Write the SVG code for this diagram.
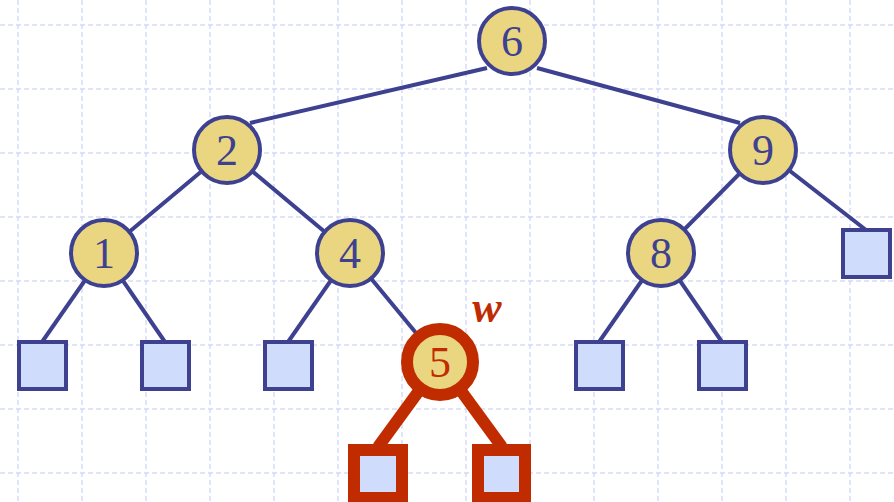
<svg xmlns="http://www.w3.org/2000/svg" width="894" height="502" viewBox="0 0 894 502">
<defs>
<style>
.grid{stroke:#d6dcf6;stroke-width:1.5;stroke-dasharray:5 3;fill:none}
.e{stroke:#3d4190;stroke-width:4;fill:none}
.er{stroke:#c02c00;stroke-width:12;fill:none}
.n{fill:#ead680;stroke:#3d4190;stroke-width:4}
.nr{fill:#ead680;stroke:#c02c00;stroke-width:12}
.l{fill:#cfdcfb;stroke:#3d4190;stroke-width:4}
.lr{fill:#cfdcfb;stroke:#c02c00;stroke-width:12}
.t{font-family:"Liberation Serif",serif;font-size:44px;fill:#3d4190;text-anchor:middle}
.tr{font-family:"Liberation Serif",serif;font-size:44px;fill:#c02c00;text-anchor:middle}
</style>
</defs>
<rect width="894" height="502" fill="#ffffff"/>
<g id="grid" class="grid">
<path d="M18 0V502M82 0V502M146 0V502M210 0V502M274 0V502M338 0V502M402 0V502M466 0V502M530 0V502M594 0V502M658 0V502M722 0V502M786 0V502M850 0V502"/>
<path d="M0 25H894M0 89H894M0 153H894M0 217H894M0 281H894M0 345H894M0 409H894M0 473H894"/>
</g>
<g id="connectors">
<line class="e" x1="487" y1="68" x2="250" y2="123"/>
<line class="e" x1="537" y1="68" x2="740" y2="123"/>
<line class="e" x1="227" y1="150" x2="104" y2="253"/>
<line class="e" x1="227" y1="150" x2="350" y2="253"/>
<line class="e" x1="763" y1="150" x2="661" y2="253"/>
<line class="e" x1="763" y1="150" x2="866" y2="230"/>
<line class="e" x1="104" y1="253" x2="42" y2="342"/>
<line class="e" x1="104" y1="253" x2="165" y2="342"/>
<line class="e" x1="350" y1="253" x2="288" y2="342"/>
<line class="e" x1="350" y1="253" x2="440" y2="362"/>
<line class="e" x1="661" y1="253" x2="599" y2="342"/>
<line class="e" x1="661" y1="253" x2="722" y2="342"/>
<line class="er" x1="440" y1="362" x2="378" y2="447"/>
<line class="er" x1="440" y1="362" x2="502" y2="447"/>
</g>
<g id="node6"><circle class="n" cx="512" cy="41" r="33"/><text class="t" x="512" y="56">6</text></g>
<g id="node2"><circle class="n" cx="227" cy="150" r="33"/><text class="t" x="227" y="165">2</text></g>
<g id="node9"><circle class="n" cx="763" cy="150" r="33"/><text class="t" x="763" y="165">9</text></g>
<g id="node1"><circle class="n" cx="104" cy="253" r="33"/><text class="t" x="104" y="268">1</text></g>
<g id="node4"><circle class="n" cx="350" cy="253" r="33"/><text class="t" x="350" y="268">4</text></g>
<g id="node8"><circle class="n" cx="661" cy="253" r="33"/><text class="t" x="661" y="268">8</text></g>
<g id="node5"><circle class="nr" cx="440" cy="362" r="33"/><text class="tr" x="440" y="377">5</text></g>
<g id="labelw"><text x="487" y="322" font-family="Liberation Serif,serif" font-size="44" font-style="italic" font-weight="bold" fill="#c02c00" text-anchor="middle">w</text></g>
<g id="leaf1"><rect class="l" x="19" y="342" width="47" height="47"/></g>
<g id="leaf2"><rect class="l" x="142" y="342" width="47" height="47"/></g>
<g id="leaf3"><rect class="l" x="265" y="342" width="47" height="47"/></g>
<g id="leaf4"><rect class="l" x="576" y="342" width="47" height="47"/></g>
<g id="leaf5"><rect class="l" x="699" y="342" width="47" height="47"/></g>
<g id="leaf6"><rect class="l" x="843" y="230" width="47" height="47"/></g>
<g id="leaf7"><rect class="lr" x="354" y="450" width="48" height="48"/></g>
<g id="leaf8"><rect class="lr" x="478" y="450" width="47" height="48"/></g>
</svg>
